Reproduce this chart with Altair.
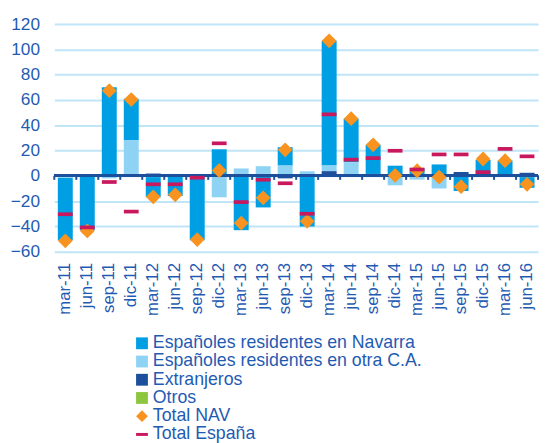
import altair as alt
import pandas as pd

periodos = ["mar-11", "jun-11", "sep-11", "dic-11", "mar-12", "jun-12", "sep-12", "dic-12",
            "mar-13", "jun-13", "sep-13", "dic-13", "mar-14", "jun-14", "sep-14", "dic-14",
            "mar-15", "jun-15", "sep-15", "dic-15", "mar-16", "jun-16"]

navarra = [-49.5, -43, 70, 33, -16, -16, -51, 21, -43, -25, 14.5, -40,
           98.7, 34.5, 23, 8, 6, 9, -12, 12.5, 11, -8.5]
otra_ca = [-1.5, 0, -2, 28, -1, 1.5, 0, -17, 5.8, 7.6, 8.1, 3.7,
           4.4, 10.7, 0, -7.5, -3, -10, 0, 0, 0, -1]
extranjeros = [0, 0, 0, 0, 1.8, 0, 0, 0, 0, 0, -2, 0,
               3.7, 0, 1.5, 0, 0, 0, 3, 0, 1, 2.4]
otros = [0, 0, 0, 0, 0, 0, 0, 0, 0, 0, 0, 0,
         -0.8, -0.6, -0.6, 0, 0, 0, 0, -0.5, -0.5, 0]
total_nav = [-51.4, -43.6, 67.3, 60.3, -16.6, -15, -50.4, 4.2, -37.4, -17.4, 20.6, -36,
             106.8, 45.2, 24.5, 0.3, 4, -1, -8.6, 13.3, 12, -6.7]
total_esp = [-30.4, -40.8, -4.9, -28.3, -6.7, -6.7, -1.5, 25.7, -20.8, -3.1, -5.9, -30,
             48.6, 12.8, 14, 19.8, 5, 16.9, 16.9, 2.9, 21.3, 15.4]

series = ["Españoles residentes en Navarra", "Españoles residentes en otra C.A.",
          "Extranjeros", "Otros", "Total NAV", "Total España"]
colores = ["#009fe3", "#8fd3f4", "#1c4f9c", "#8cc63f", "#f7931e", "#c8185e"]
formas = ["square", "square", "square", "square", "diamond", "M-1,-0.25H1V0.25H-1Z"]
orden_pila = [2, 1, 0, 3]
ticks_y = [-60, -40, -20, 0, 20, 40, 60, 80, 100, 120]

TEXTO = "#1f5bb3"
W, H = 491, 231
N = len(periodos)
paso = W / N

filas = []
for i, p in enumerate(periodos):
    for s, vals, o in zip(series[:4], [navarra, otra_ca, extranjeros, otros], orden_pila):
        filas.append({"periodo": p, "serie": s, "valor": vals[i], "orden": o})
barras_df = pd.DataFrame(filas)

puntos = []
for i, p in enumerate(periodos):
    puntos.append({"periodo": p, "serie": series[4], "valor": total_nav[i]})
for i, p in enumerate(periodos):
    puntos.append({"periodo": p, "serie": series[5], "valor": total_esp[i]})
puntos_df = pd.DataFrame(puntos)

xenc = alt.X("periodo:N", sort=periodos,
             scale=alt.Scale(paddingInner=0.32, paddingOuter=0.16),
             axis=alt.Axis(title=None, labelAngle=-90, labelFontSize=17, labelColor=TEXTO,
                           ticks=False, domain=False, grid=False, labelPadding=11,
                           labelOverlap=False))
yscale = alt.Scale(domain=[-60, 120], nice=False)
yaxis = alt.Axis(title=None, values=ticks_y, grid=True, tickCount=10,
                 labelOverlap=False)
yenc = alt.Y("valor:Q", scale=yscale, stack="zero", axis=yaxis)

leyenda = alt.Legend(title=None, orient="none", legendX=80, legendY=315,
                     labelFontSize=18, labelColor=TEXTO, symbolSize=144,
                     symbolStrokeWidth=0, rowPadding=0.5, labelOffset=2, labelLimit=0,
                     padding=0)

color = alt.Color("serie:N", scale=alt.Scale(domain=series, range=colores), legend=leyenda)

barras = alt.Chart(barras_df).mark_bar().encode(
    x=xenc, y=yenc, color=color, order=alt.Order("orden:Q")
)

ticks_df = pd.DataFrame({"periodo": periodos, "cero": 0, "bajo": -3.2})
cero = alt.Chart(ticks_df).mark_rule(color="#1c4f9c", strokeWidth=2.5).encode(
    y=alt.Y("cero:Q", scale=yscale, axis=yaxis)
)
marcas = alt.Chart(ticks_df).mark_rule(color="#1c4f9c", strokeWidth=2, xOffset=-paso / 2).encode(
    x=alt.X("periodo:N", sort=periodos), y=alt.Y("cero:Q", scale=yscale, axis=yaxis), y2="bajo:Q"
)
marca_final = alt.Chart(ticks_df.tail(1)).mark_rule(color="#1c4f9c", strokeWidth=2, xOffset=paso / 2).encode(
    x=alt.X("periodo:N", sort=periodos), y=alt.Y("cero:Q", scale=yscale, axis=yaxis), y2="bajo:Q"
)

simbolos = alt.Chart(puntos_df).mark_point(filled=True, opacity=1, size=225, strokeWidth=0).encode(
    x=alt.X("periodo:N", sort=periodos),
    y=alt.Y("valor:Q", scale=yscale, axis=yaxis),
    color=color,
    shape=alt.Shape("serie:N", scale=alt.Scale(domain=series, range=formas), legend=leyenda),
)

chart = alt.layer(barras, cero, marcas, marca_final, simbolos).properties(
    width=W, height=H,
    autosize=alt.AutoSizeParams(type="none"),
    padding={"left": 47, "top": 13, "right": 3, "bottom": 200},
).configure(font="Liberation Sans").configure_view(stroke=None).configure_axisY(
    gridColor="#bfe5f7", gridWidth=2, domain=False, ticks=False,
    labelFontSize=17.5, labelColor=TEXTO, labelPadding=15,
    labelOverlap=False, labelBound=False, labelFlush=False
)

chart.save("out.html", embed_options={"renderer": "svg", "actions": False})
